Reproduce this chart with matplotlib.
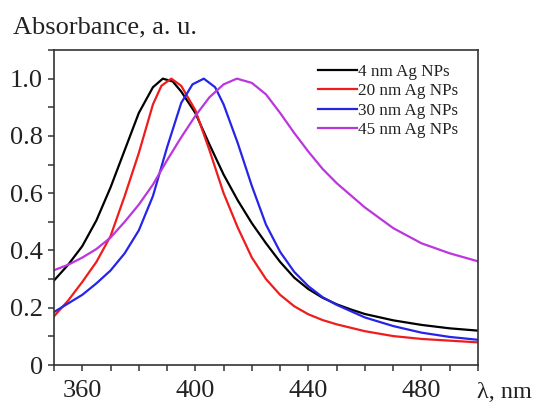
import numpy as np
from matplotlib import pyplot as plt
from matplotlib.ticker import MultipleLocator

plt.rcParams['font.family'] = ['Liberation Serif', 'DejaVu Serif']

# spectra (wavelength, nm / normalised absorbance)
wl_4 = [350, 355, 360, 365, 370, 375, 380, 385, 388.5, 392, 395, 400, 405, 410,
        415, 420, 425, 430, 435, 440, 445, 450, 455, 460, 470, 480, 490, 500]
ab_4 = [0.295, 0.35, 0.415, 0.505, 0.62, 0.75, 0.88, 0.97, 1.0, 0.99, 0.955,
        0.88, 0.77, 0.665, 0.575, 0.495, 0.425, 0.36, 0.305, 0.265, 0.235, 0.212,
        0.194, 0.178, 0.156, 0.14, 0.128, 0.12]

wl_20 = [350, 355, 360, 365, 370, 375, 380, 385, 388, 391.5, 395, 400, 405, 410,
         415, 420, 425, 430, 435, 440, 445, 450, 460, 470, 480, 490, 500]
ab_20 = [0.17, 0.225, 0.29, 0.36, 0.45, 0.59, 0.74, 0.91, 0.975, 1.0, 0.975,
         0.89, 0.75, 0.6, 0.48, 0.375, 0.3, 0.245, 0.205, 0.177, 0.157, 0.142,
         0.118, 0.101, 0.091, 0.085, 0.079]

wl_30 = [350, 355, 360, 365, 370, 375, 380, 385, 390, 395, 399, 403, 407, 410,
         415, 420, 425, 430, 435, 440, 445, 450, 460, 470, 480, 490, 500]
ab_30 = [0.185, 0.215, 0.245, 0.285, 0.33, 0.39, 0.47, 0.59, 0.76, 0.915, 0.98,
         1.0, 0.97, 0.91, 0.775, 0.625, 0.49, 0.395, 0.325, 0.275, 0.237, 0.21,
         0.166, 0.136, 0.113, 0.098, 0.088]

wl_45 = [350, 355, 360, 365, 370, 375, 380, 385, 390, 395, 400, 405, 410, 414.7,
         420, 425, 430, 435, 440, 445, 450, 460, 470, 480, 490, 500]
ab_45 = [0.331, 0.35, 0.375, 0.405, 0.445, 0.5, 0.56, 0.63, 0.715, 0.795, 0.87,
         0.935, 0.98, 1.0, 0.985, 0.945, 0.88, 0.81, 0.745, 0.685, 0.635, 0.55,
         0.478, 0.425, 0.39, 0.362]

labels = ['4 nm Ag NPs', '20 nm Ag NPs', '30 nm Ag NPs', '45 nm Ag NPs']
colors = ['#000000', '#f01c1c', '#2525e8', '#bb36dd']

fig = plt.figure(figsize=(5.36, 4.04), dpi=100)
ax = fig.add_axes([54 / 536, 39 / 404, 424 / 536, 315 / 404])

for x, y, lab, c in zip([wl_4, wl_20, wl_30, wl_45], [ab_4, ab_20, ab_30, ab_45],
                        labels, colors):
    ax.plot(x, y, color=c, lw=1.6, label=lab)

ax.set_xlim(350, 500)
ax.set_ylim(0, 1.1)
ax.set_xticks([360, 400, 440, 480])
ax.xaxis.set_minor_locator(MultipleLocator(10))
ax.set_yticks([0, 0.2, 0.4, 0.6, 0.8, 1.0])
ax.set_yticklabels(['0', '0.2', '0.4', '0.6', '0.8', '1.0'])
ax.yaxis.set_minor_locator(MultipleLocator(0.1))

ax.tick_params(which='both', direction='out', color='#333333', width=1.1,
               length=4.5, labelsize=19, labelcolor='#222222')
ax.tick_params(axis='x', which='major', pad=6)
ax.tick_params(axis='y', which='major', pad=3.5)
for s in ax.spines.values():
    s.set_color('#333333')
    s.set_linewidth(1.2)

fig.text(13 / 536, (404 - 33) / 404, 'Absorbance, a. u.', fontsize=19,
         color='#222222', va='baseline', ha='left')
fig.text(477 / 536, (404 - 398) / 404, 'λ, nm', fontsize=17.5,
         color='#222222', va='baseline', ha='left')

leg = ax.legend(loc='upper left', bbox_to_anchor=(318 / 536, (404 - 64) / 404),
                bbox_transform=fig.transFigure, frameon=False, fontsize=12.3,
                handlelength=2.3, handletextpad=0.05, labelspacing=0.2,
                borderpad=0, borderaxespad=0)
for t in leg.get_texts():
    t.set_color('#222222')

fig.savefig('out.png', dpi=100)
